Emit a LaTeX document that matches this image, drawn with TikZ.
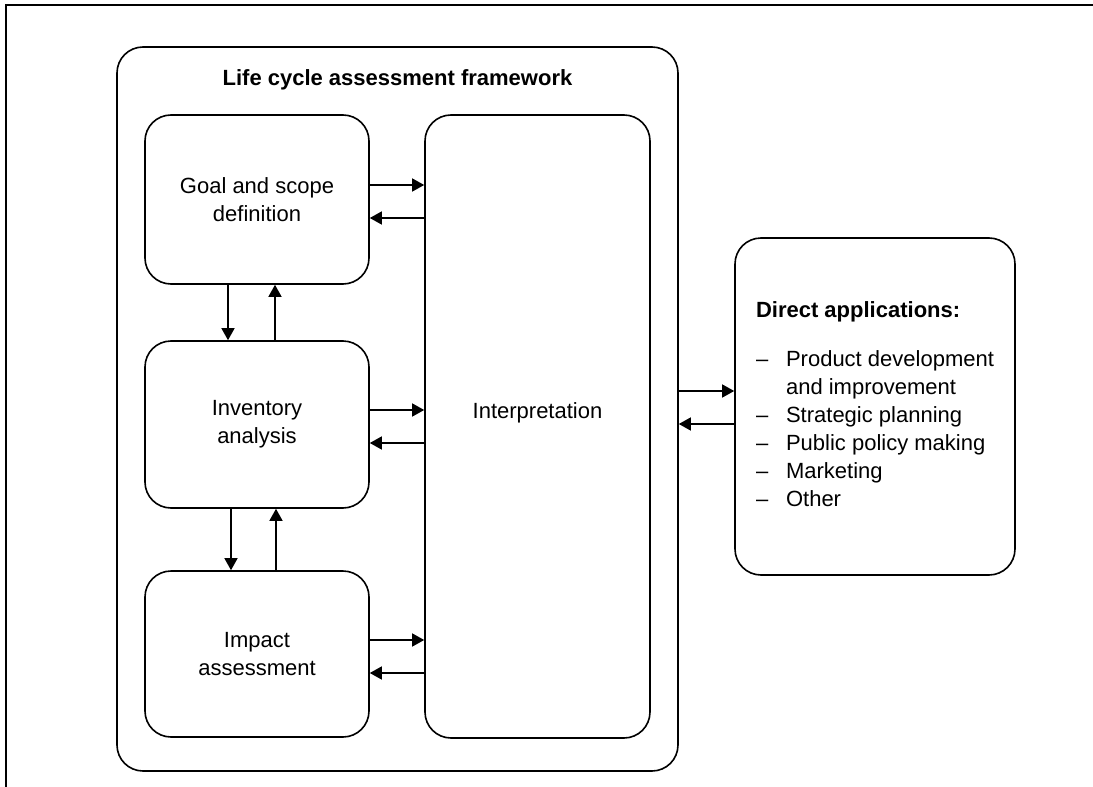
\documentclass[tikz,border=0pt]{standalone}
\usepackage{fontspec}
\setmainfont{Liberation Sans}
\usetikzlibrary{arrows.meta}
\begin{document}
\begin{tikzpicture}[x=1pt,y=-1pt,
  txt/.style={font=\fontsize{22}{28}\selectfont},
  box/.style={draw, line width=1.6pt, rounded corners=26pt, inner sep=0pt,
              align=center, txt},
  link/.style={line width=1.4pt, -{Triangle[length=12pt,width=13pt]}},
]
\useasboundingbox (0,0) rectangle (1093,787);
% page frame (top and left rules)
\draw[line width=2pt] (6,787) -- (6,5) -- (1093,5);

% framework container
\node[box, minimum width=561pt, minimum height=724pt] (frame) at (397.5,409) {};
\node[txt, font=\bfseries\fontsize{22}{28}\selectfont] (title) at (397.5,80)
  {Life cycle assessment framework};

% phases
\node[box, minimum width=224pt, minimum height=169pt] (goal) at (257,199.5)
  {Goal and scope\\definition};
\node[box, minimum width=224pt, minimum height=167pt] (inv) at (257,424.5)
  {Inventory\\analysis};
\node[box, minimum width=224pt, minimum height=166pt] (imp) at (257,654)
  {Impact\\assessment};
\node[box, minimum width=225pt, minimum height=623pt] (interp) at (537.5,426.5) {};
\node[txt] (interplabel) at (537.5,413) {Interpretation};

% applications
\node[box, minimum width=280pt, minimum height=337pt] (apps) at (875,406.5)
  {\begin{tabular}{@{}l@{}l@{}}
   \multicolumn{2}{@{}l@{}}{\bfseries Direct applications:}\\[21pt]
   \makebox[30pt][l]{--} & Product development\\
                         & and improvement\\
   \makebox[30pt][l]{--} & Strategic planning\\
   \makebox[30pt][l]{--} & Public policy making\\
   \makebox[30pt][l]{--} & Marketing\\
   \makebox[30pt][l]{--} & Other
   \end{tabular}};

% arrow heights and columns
\coordinate (g1) at (0,185);  \coordinate (g2) at (0,218);
\coordinate (i1) at (0,410);  \coordinate (i2) at (0,443);
\coordinate (m1) at (0,640);  \coordinate (m2) at (0,673);
\coordinate (a1) at (0,391);  \coordinate (a2) at (0,424);
\coordinate (d1) at (228,0);  \coordinate (u1) at (275,0);
\coordinate (d2) at (231,0);  \coordinate (u2) at (276,0);

% phase <-> interpretation
\draw[link] (goal.east |- g1) -- (interp.west |- g1);
\draw[link] (interp.west |- g2) -- (goal.east |- g2);
\draw[link] (inv.east |- i1) -- (interp.west |- i1);
\draw[link] (interp.west |- i2) -- (inv.east |- i2);
\draw[link] (imp.east |- m1) -- (interp.west |- m1);
\draw[link] (interp.west |- m2) -- (imp.east |- m2);

% phase <-> phase
\draw[link] (d1 |- goal.south) -- (d1 |- inv.north);
\draw[link] (u1 |- inv.north) -- (u1 |- goal.south);
\draw[link] (d2 |- inv.south) -- (d2 |- imp.north);
\draw[link] (u2 |- imp.north) -- (u2 |- inv.south);

% framework <-> applications
\draw[link] (frame.east |- a1) -- (apps.west |- a1);
\draw[link] (apps.west |- a2) -- (frame.east |- a2);
\end{tikzpicture}
\end{document}
